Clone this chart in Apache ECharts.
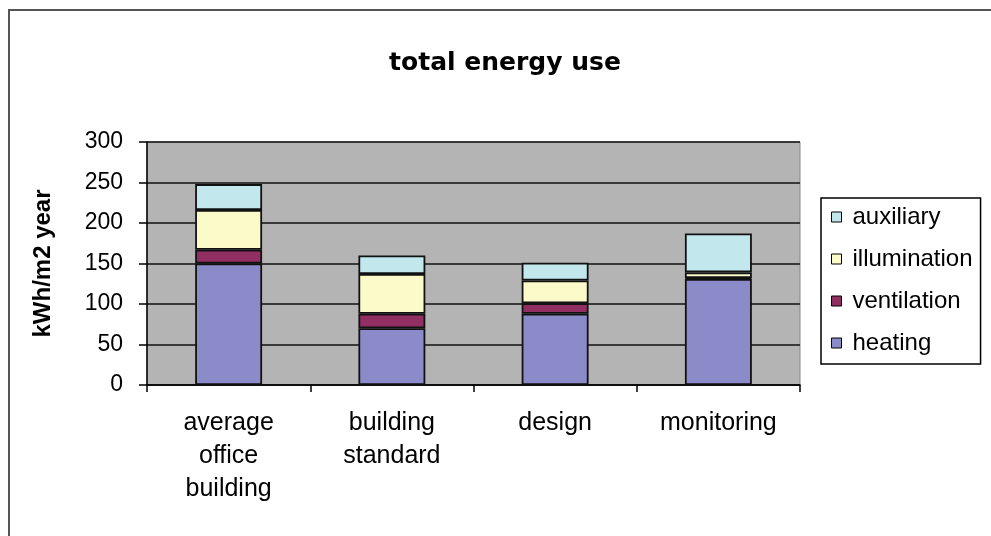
<!DOCTYPE html>
<html>
<head>
<meta charset="utf-8">
<script src="https://cdn.jsdelivr.net/npm/echarts@6/dist/echarts.min.js"></script>
<style>
  html, body { margin: 0; padding: 0; background: #ffffff; }
  #chart { width: 991px; height: 536px; }
</style>
</head>
<body>
<div id="chart"></div>
<script>
// Annual energy use per floor area, split by end use
const categories = ['average\noffice\nbuilding', 'building\nstandard', 'design', 'monitoring'];
const heating      = [150, 70, 88, 131];
const ventilation  = [17, 18, 13, 1];
const illumination = [49, 49, 28, 7];
const auxiliary    = [32, 23, 22, 48];
const yTicks = { min: 0, max: 300, interval: 50 };

const colors = {
  heating: '#8b8bc9',
  ventilation: '#922f62',
  illumination: '#fbfbca',
  auxiliary: '#c2e8ee'
};

const font = '"Liberation Sans", Arial, sans-serif';

function barSeries(name, values) {
  return {
    name: name,
    type: 'bar',
    stack: 'total',
    barWidth: '41%',
    data: values,
    itemStyle: { color: colors[name], borderColor: '#111', borderWidth: 1.8 }
  };
}

const chart = echarts.init(document.getElementById('chart'), null, { renderer: 'canvas' });
chart.setOption({
  animation: false,
  backgroundColor: '#ffffff',
  graphic: [{
    type: 'rect',
    shape: { x: 9, y: 10, width: 1000, height: 600 },
    style: { fill: 'none', stroke: '#555555', lineWidth: 2 },
    silent: true
  }],
  title: {
    text: 'total energy use',
    left: 500,
    top: 46,
    textAlign: 'center',
    textStyle: { fontFamily: '"DejaVu Sans", Verdana, sans-serif', fontWeight: 'bold', fontSize: 25, color: '#000' }
  },
  legend: {
    orient: 'vertical',
    left: 821,
    top: 198,
    data: ['auxiliary', 'illumination', 'ventilation', 'heating'],
    icon: 'rect',
    itemWidth: 10,
    itemHeight: 10,
    itemGap: 16,
    padding: [6, 8, 8, 10],
    backgroundColor: '#ffffff',
    borderColor: '#000000',
    borderWidth: 1.5,
    borderRadius: 0,
    itemStyle: { borderColor: '#000', borderWidth: 1 },
    textStyle: { fontFamily: font, fontSize: 24, color: '#000', lineHeight: 26, padding: [0, 0, 0, 6] }
  },
  grid: { left: 147, right: 191, top: 142, bottom: 151, show: true, backgroundColor: '#b4b4b4', borderColor: '#888', borderWidth: 1 },
  xAxis: {
    type: 'category',
    data: categories,
    axisLine: { lineStyle: { color: '#000', width: 1.5 } },
    axisTick: { show: true, length: 7, lineStyle: { color: '#000', width: 1.5 } },
    axisLabel: { fontFamily: font, fontSize: 25, color: '#000', lineHeight: 33, margin: 22, interval: 0 }
  },
  yAxis: {
    type: 'value',
    min: yTicks.min,
    max: yTicks.max,
    interval: yTicks.interval,
    name: 'kWh/m2 year',
    nameLocation: 'middle',
    nameRotate: 90,
    nameGap: 92,
    nameTextStyle: { fontFamily: font, fontWeight: 'bold', fontSize: 24, color: '#000' },
    axisLine: { show: true, lineStyle: { color: '#000', width: 1.5 } },
    axisTick: { show: true, length: 8, lineStyle: { color: '#000', width: 1.5 } },
    axisLabel: { fontFamily: font, fontSize: 23, color: '#000', margin: 24 },
    splitLine: { show: true, lineStyle: { color: '#111', width: 1.5 } }
  },
  series: [
    barSeries('heating', heating),
    barSeries('ventilation', ventilation),
    barSeries('illumination', illumination),
    barSeries('auxiliary', auxiliary)
  ]
});
</script>
</body>
</html>
